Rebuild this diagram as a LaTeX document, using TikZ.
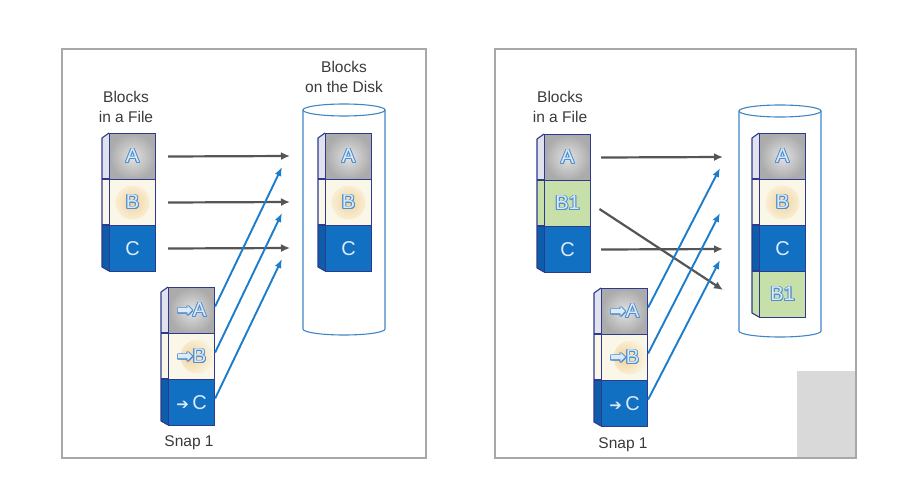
\documentclass[tikz,border=0pt]{standalone}
\usepackage{fontspec}
\setmainfont{Liberation Sans}
\newfontfamily\symf{DejaVu Sans}
\usepackage{contour}
\contourlength{0.9pt}
\usetikzlibrary{arrows.meta}
\definecolor{navy}{HTML}{2E3A8C}
\definecolor{frameg}{HTML}{A8A8A8}
\definecolor{grayA}{HTML}{ABABAB}
\definecolor{grayAin}{HTML}{E2E2E2}
\definecolor{cream}{HTML}{FBF7E8}
\definecolor{glow}{HTML}{F2D39C}
\definecolor{blueC}{HTML}{1170C2}
\definecolor{blueCside}{HTML}{0E5DAA}
\definecolor{greenB}{HTML}{C7DFA8}
\definecolor{olblue}{HTML}{4F8FD0}
\definecolor{olfill}{HTML}{DDEAF7}
\definecolor{Ctext}{HTML}{DCEBF8}
\definecolor{arrg}{HTML}{555555}
\definecolor{arrb}{HTML}{1B7DCB}
\definecolor{cyl}{HTML}{3F86C8}
\definecolor{txt}{HTML}{3A3A3A}
\definecolor{boxg}{HTML}{D9D9D9}
\definecolor{sideA}{HTML}{E2E2EE}
\tikzset{
  edge/.style={draw=navy, line width=1.1pt},
  blk/.style={draw=navy, line width=1.1pt, minimum width=46pt, minimum height=46pt,
    inner sep=0pt, anchor=north west, font=\fontsize{20}{20}\selectfont},
  bA/.style={blk, inner color=grayAin, outer color=grayA, text=olfill},
  bB/.style={blk, fill=cream, text=olfill, path picture={
      \shade[inner color=glow, outer color=cream] ([xshift=#1]path picture bounding box.center) circle (17pt);}},
  bB/.default=0pt,
  bC/.style={blk, fill=blueC, text=Ctext},
  bG/.style={blk, fill=greenB, text=olfill},
  lbl/.style={align=center, text=txt, font=\fontsize{15.5}{20}\selectfont},
  garr/.style={draw=arrg, line width=2.2pt, -{Latex[length=9pt,width=8pt]}},
  barr/.style={draw=arrb, line width=1.9pt, -{Latex[length=9pt,width=7pt]}},
  cylst/.style={draw=cyl, line width=1.1pt, fill=white},
  framest/.style={draw=frameg, line width=2pt},
}
\newcommand\sideface[4]{%
  \begin{scope}
    \clip (#1,#2) -- (#1-7,#2+5) -- (#1-7,#2+#3*46-4) -- (#1,#2+#3*46) -- cycle;
    \foreach \cc [count=\ii from 0] in {#4} {\fill[\cc] (#1-9,#2+\ii*46) rectangle (#1+1,#2+\ii*46+46);}
  \end{scope}
  \foreach \cc [count=\ii from 0] in {#4} {\ifnum\ii>0 \draw[edge] (#1-7,#2+\ii*46) -- (#1,#2+\ii*46);\fi}
  \draw[edge, line join=round] (#1,#2) -- (#1-7,#2+5) -- (#1-7,#2+#3*46-4) -- (#1,#2+#3*46);
}
\newcommand\harr{{\symf\fontsize{19}{19}\selectfont ➡}}
\newcommand\sarr{{\symf\fontsize{15}{15}\selectfont ➔}}
\begin{document}
\begin{tikzpicture}[x=1pt,y=-1pt]
\useasboundingbox (0,0) rectangle (904,484);
\fill[white] (0,0) rectangle (904,484);
% frames
\fill[boxg] (797,371) rectangle (856,458);
\draw[framest] (62,49) rectangle (426,458);
\draw[framest] (495,49) rectangle (856,458);

% ===== LEFT PANEL =====
\node[lbl] (lt1) at (126,107) {Blocks\\in a File};
\node[lbl] (lt2) at (344,77) {Blocks\\on the Disk};
\node[lbl] (lt3) at (189,443) {Snap 1};
% cylinder
\draw[cylst] (303,110) -- (303,329) arc[start angle=180,end angle=0,x radius=41,y radius=6] -- (385,110);
\draw[cylst] (344,110) ellipse [x radius=41, y radius=6];
% file stack
\sideface{109}{133}{3}{sideA,cream,blueCside}
\node[bA] (fA) at (109,133) {\contour{olblue}{A}};
\node[bB] (fB) at (109,179) {\contour{olblue}{B}};
\node[bC] (fC) at (109,225) {C};
% disk stack
\sideface{325}{133}{3}{sideA,cream,blueCside}
\node[bA] (dA) at (325,133) {\contour{olblue}{A}};
\node[bB] (dB) at (325,179) {\contour{olblue}{B}};
\node[bC] (dC) at (325,225) {C};
% snap stack
\sideface{168}{287}{3}{sideA,cream,blueCside}
\node[bA] (sA) at (168,287) {\contour{olblue}{\harr A}};
\node[bB=6pt] (sB) at (168,333) {\contour{olblue}{\harr B}};
\node[bC] (sC) at (168,379) {\sarr\,C};
% targets
\coordinate (tA) at (290,156);
\coordinate (tB) at (290,202);
\coordinate (tC) at (290,248);
\coordinate (uA) at (282,167);
\coordinate (uB) at (282,213);
\coordinate (uC) at (282,259);
\draw[garr, shorten <=12pt] (fA.east) -- (tA);
\draw[garr, shorten <=12pt] (fB.east) -- (tB);
\draw[garr, shorten <=12pt] (fC.east) -- (tC);
\draw[barr] ([yshift=4pt]sA.east) -- (uA);
\draw[barr] ([yshift=4pt]sB.east) -- (uB);
\draw[barr] ([yshift=4pt]sC.east) -- (uC);

% ===== RIGHT PANEL =====
\node[lbl] (rt1) at (560,107) {Blocks\\in a File};
\node[lbl] (rt3) at (623,445) {Snap 1};
\draw[cylst] (739,111) -- (739,331) arc[start angle=180,end angle=0,x radius=41,y radius=6] -- (821,111);
\draw[cylst] (780,111) ellipse [x radius=41, y radius=6];
% file stack
\sideface{544}{134}{3}{sideA,greenB,blueCside}
\node[bA] (gA) at (544,134) {\contour{olblue}{A}};
\node[bG] (gB) at (544,180) {\contour{olblue}{B1}};
\node[bC] (gC) at (544,226) {C};
% disk stack
\sideface{759}{133}{4}{sideA,cream,blueCside,greenB}
\node[bA] (eA) at (759,133) {\contour{olblue}{A}};
\node[bB] (eB) at (759,179) {\contour{olblue}{B}};
\node[bC] (eC) at (759,225) {C};
\node[bG] (eB1) at (759,271) {\contour{olblue}{B1}};
% snap stack
\sideface{601}{288}{3}{sideA,cream,blueCside}
\node[bA] (qA) at (601,288) {\contour{olblue}{\harr A}};
\node[bB=6pt] (qB) at (601,334) {\contour{olblue}{\harr B}};
\node[bC] (qC) at (601,380) {\sarr\,C};
\coordinate (vA) at (723,157);
\coordinate (vC) at (723,249);
\coordinate (vB) at (723,290);
\coordinate (wA) at (720,168);
\coordinate (wB) at (720,213);
\coordinate (wC) at (720,260);
\draw[garr, shorten <=10pt] (gA.east) -- (vA);
\draw[garr, shorten <=10pt] (gC.east) -- (vC);
\draw[garr, shorten <=10pt] (gB.east) -- (vB);
\draw[barr] ([yshift=4pt]qA.east) -- (wA);
\draw[barr] ([yshift=4pt]qB.east) -- (wB);
\draw[barr] ([yshift=4pt]qC.east) -- (wC);
\end{tikzpicture}
\end{document}
